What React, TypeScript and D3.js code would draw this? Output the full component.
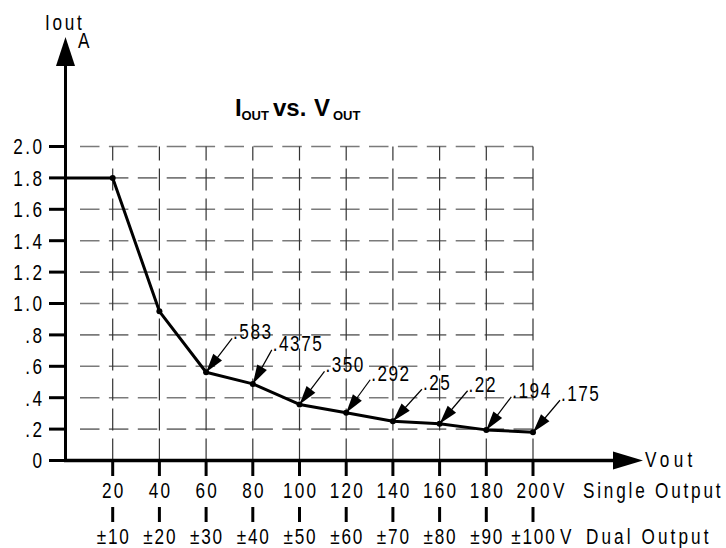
import React from 'react';
import * as d3 from 'd3';

// output voltage (single), dual labels, and the current drawn at each
const vSingle = [20, 40, 60, 80, 100, 120, 140, 160, 180, 200];
const singleLabels = ['20', '40', '60', '80', '100', '120', '140', '160', '180', '200'];
const dualLabels = ['±10', '±20', '±30', '±40', '±50', '±60', '±70', '±80', '±90', '±100'];
const iout = [1.8, 0.95, 0.562, 0.488, 0.357, 0.304, 0.25, 0.234, 0.195, 0.18];
const callouts = ['', '', '.583', '.4375', '.350', '.292', '.25', '.22', '.194', '.175'];

// flat current-limit segment from the y axis
const limitV = [0, 20];
const limitI = [1.8, 1.8];

const yTicks = [0, 0.2, 0.4, 0.6, 0.8, 1.0, 1.2, 1.4, 1.6, 1.8, 2.0];
const yTickLabels = ['0', '.2', '.4', '.6', '.8', '1.0', '1.2', '1.4', '1.6', '1.8', '2.0'];

// where each callout text sits relative to its point
const calloutOffsets: [number, number][] = [
  [0, 0], [0, 0], [27, -33], [20, -33], [26, -32], [25, -32], [30, -31], [29, -32], [26, -32], [28, -31],
];

const W = 726;
const H = 548;
const FONT = "'Liberation Sans', Arial, sans-serif";
const SX = 0.78; // squeeze to look like a narrow face

// narrow text: a normal sans squeezed horizontally
function NT({
  x,
  y,
  anchor = 'start',
  ls = 2,
  size = 22,
  children,
}: {
  x: number;
  y: number;
  anchor?: 'start' | 'middle' | 'end';
  ls?: number;
  size?: number;
  children: React.ReactNode;
}) {
  const lsLocal = ls / SX;
  const dx = anchor === 'middle' ? lsLocal / 2 : anchor === 'end' ? lsLocal : 0;
  return (
    <text
      transform={`translate(${x},${y}) scale(${SX},1)`}
      textAnchor={anchor}
      fontFamily={FONT}
      fontSize={size}
      letterSpacing={lsLocal}
      dx={dx}
      fill="#000"
    >
      {children}
    </text>
  );
}

export default function App() {
  const x = d3.scaleLinear().domain([0, 200]).range([66, 533]);
  const y = d3.scaleLinear().domain([0, 2]).range([460.5, 146.5]);

  const line = d3
    .line<[number, number]>()
    .x((d) => x(d[0]))
    .y((d) => y(d[1]));

  const pts: [number, number][] = vSingle.map((v, i) => [v, iout[i]]);
  const limitPts: [number, number][] = limitV.map((v, i) => [v, limitI[i]]);

  const axisX0 = 65.5;
  const axisY0 = 460.5;

  const arrowHead = (px: number, py: number, qx: number, qy: number) => {
    const dx = qx - px;
    const dy = qy - py;
    const len = Math.hypot(dx, dy);
    const ux = dx / len;
    const uy = dy / len;
    const L = 19;
    const w = 5.5;
    const bx = px + ux * L;
    const by = py + uy * L;
    return `${px},${py} ${bx - uy * w},${by + ux * w} ${bx + uy * w},${by - ux * w}`;
  };

  return (
    <svg
      width={W}
      height={H}
      style={{ position: 'absolute', left: 0, top: 0, background: '#fff' }}
    >
      {/* grid */}
      <g>
        {yTicks.slice(1).map((t) => (
          <line
            key={'h' + t}
            x1={80}
            x2={x(200)}
            y1={y(t)}
            y2={y(t)}
            stroke="#7a7a7a"
            strokeWidth={1.6}
            strokeDasharray="19.5 9.4"
          />
        ))}
        {vSingle.map((v) => (
          <line
            key={'v' + v}
            x1={x(v)}
            x2={x(v)}
            y1={y(2)}
            y2={axisY0}
            stroke="#333"
            strokeWidth={1.2}
            strokeDasharray="22 8"
            strokeDashoffset={8}
          />
        ))}
      </g>

      {/* axes */}
      <line x1={axisX0} x2={axisX0} y1={axisY0 + 1.5} y2={62} stroke="#000" strokeWidth={3} />
      <polygon points={`${axisX0},37 ${axisX0 - 9.5},66 ${axisX0 + 9.5},66`} fill="#000" />
      <line x1={axisX0 - 1.5} x2={615} y1={axisY0} y2={axisY0} stroke="#000" strokeWidth={3.5} />
      <polygon points={`643,${axisY0} 613,${axisY0 - 9} 613,${axisY0 + 9}`} fill="#000" />

      {/* y ticks */}
      {yTicks.map((t, i) => (
        <g key={'yt' + t}>
          <line x1={49} x2={axisX0} y1={y(t)} y2={y(t)} stroke="#000" strokeWidth={3} />
          <NT x={42} y={y(t) + 7.8} anchor="end" ls={2.5}>
            {yTickLabels[i]}
          </NT>
        </g>
      ))}

      {/* x ticks, two rows */}
      {vSingle.map((v, i) => (
        <g key={'xt' + v}>
          <line x1={x(v)} x2={x(v)} y1={462} y2={476} stroke="#000" strokeWidth={3} />
          <line x1={x(v)} x2={x(v)} y1={507} y2={522} stroke="#000" strokeWidth={3} />
          <NT x={x(v)} y={498} anchor="middle" ls={2.2}>
            {singleLabels[i]}
          </NT>
          <NT x={x(v)} y={544} anchor="middle" ls={1.8}>
            {dualLabels[i]}
          </NT>
        </g>
      ))}
      <NT x={553} y={498}>V</NT>
      <NT x={583} y={498} ls={2.8}>Single Output</NT>
      <NT x={560} y={544}>V</NT>
      <NT x={586} y={544} ls={3.1}>Dual Output</NT>

      {/* axis names */}
      <NT x={645} y={467} ls={4.3}>Vout</NT>
      <NT x={45} y={30} ls={2.7}>Iout</NT>
      <NT x={78} y={48}>A</NT>

      {/* title */}
      <text fontFamily={FONT} fontWeight="bold" fill="#000">
        <tspan x={235} y={116} fontSize={24}>I</tspan>
        <tspan x={241.5} y={119.5} fontSize={13}>OUT</tspan>
        <tspan x={273} y={116} fontSize={24}>vs.</tspan>
        <tspan x={314} y={116} fontSize={24}>V</tspan>
        <tspan x={333} y={119.5} fontSize={13}>OUT</tspan>
      </text>

      {/* data line */}
      <path d={line(limitPts) || ''} fill="none" stroke="#000" strokeWidth={3} />
      <path d={line(pts) || ''} fill="none" stroke="#000" strokeWidth={3} strokeLinejoin="round" />
      {pts.map((p) => (
        <circle key={'c' + p[0]} cx={x(p[0])} cy={y(p[1])} r={3} fill="#000" />
      ))}

      {/* callouts */}
      {pts.map((p, i) => {
        if (!callouts[i]) return null;
        const px = x(p[0]);
        const py = y(p[1]);
        const tx = px + calloutOffsets[i][0];
        const ty = py + calloutOffsets[i][1];
        return (
          <g key={'co' + i}>
            <line x1={px} y1={py} x2={tx - 1} y2={ty - 1} stroke="#000" strokeWidth={1.2} />
            <polygon points={arrowHead(px, py, tx - 1, ty - 1)} fill="#000" />
            <NT x={tx} y={ty} ls={1.5}>
              {callouts[i]}
            </NT>
          </g>
        );
      })}
    </svg>
  );
}
